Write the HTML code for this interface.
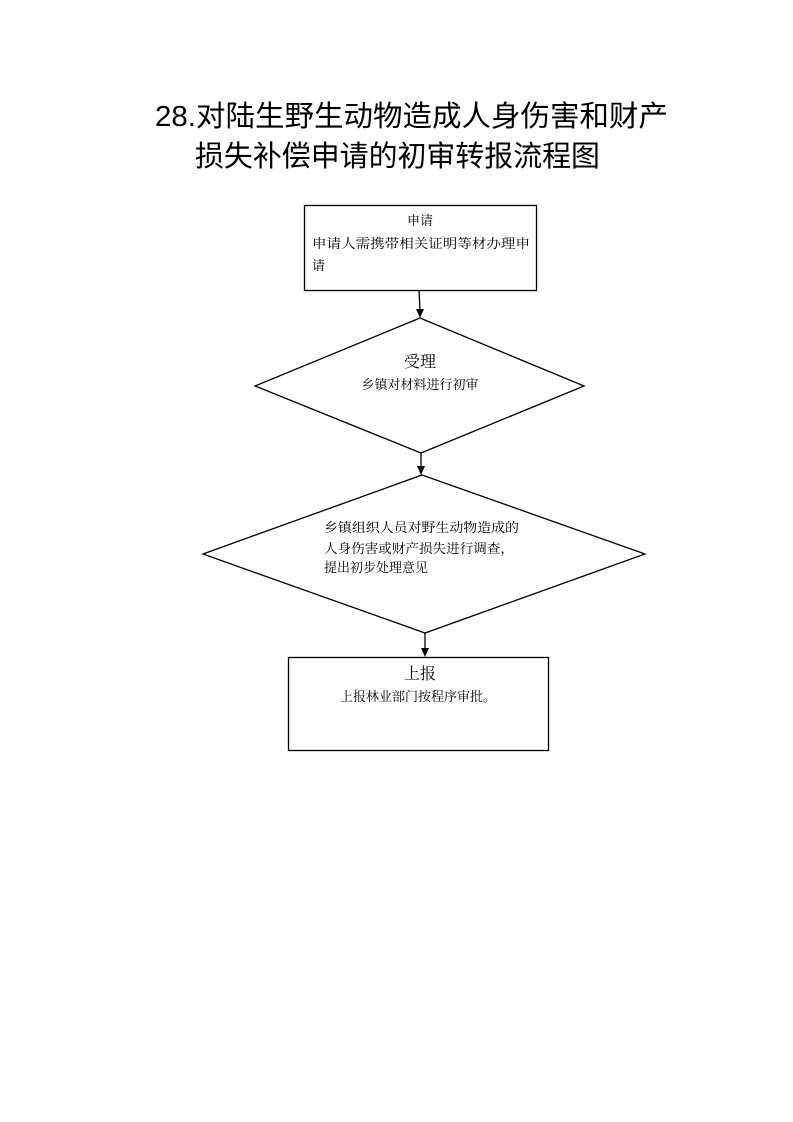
<!DOCTYPE html>
<html><head><meta charset="utf-8"><style>
html,body{margin:0;padding:0;background:#fff;}
svg{display:block;}
.t{font-family:"Liberation Sans","Noto Sans CJK SC",sans-serif;font-size:29px;fill:#000;}
.s{font-family:"Liberation Serif","Noto Serif CJK SC",serif;font-size:13px;fill:#000;}
.m{font-family:"Liberation Serif","Noto Serif CJK SC",serif;font-size:16px;fill:#000;}
</style></head><body>
<svg width="793" height="1122" viewBox="0 0 793 1122" xmlns="http://www.w3.org/2000/svg">
<defs><marker id="a" markerWidth="8" markerHeight="10" refX="4" refY="10" orient="auto" markerUnits="userSpaceOnUse"><path d="M0,0 L8,0 L4,10 Z" transform="rotate(-90 4 5) translate(0,0)" fill="#000"/></marker></defs>
<text class="t" x="155" y="126" textLength="513" lengthAdjust="spacingAndGlyphs">28.对陆生野生动物造成人身伤害和财产</text>
<text class="t" x="195" y="166" textLength="405" lengthAdjust="spacingAndGlyphs">损失补偿申请的初审转报流程图</text>
<g fill="none" stroke="#000" stroke-width="1.3">
<rect x="304.5" y="205.5" width="232" height="85"/>
<polygon points="420,318 584,386 421,453 255,386"/>
<polygon points="422,475 645,554 425,633 203,554"/>
<rect x="288.5" y="657.5" width="260" height="93"/>
<line x1="419" y1="290" x2="420" y2="310"/>
<line x1="421" y1="453" x2="421" y2="467"/>
<line x1="425" y1="633" x2="425" y2="649"/>
</g>
<g fill="#000">
<polygon points="416,309 424,309 420,318"/>
<polygon points="417,466 425,466 421,475"/>
<polygon points="421,648 429,648 425,657"/>
</g>
<text class="s" x="420" y="225" text-anchor="middle">申请</text>
<text class="s" x="312" y="248" textLength="218" lengthAdjust="spacingAndGlyphs">申请人需携带相关证明等材办理申</text>
<text class="s" x="312" y="270">请</text>
<text class="m" x="420" y="367" text-anchor="middle">受理</text>
<text class="s" x="420" y="389" text-anchor="middle">乡镇对材料进行初审</text>
<text class="s" x="324" y="532" textLength="195" lengthAdjust="spacingAndGlyphs">乡镇组织人员对野生动物造成的</text>
<text class="s" x="324" y="553" textLength="190" lengthAdjust="spacingAndGlyphs">人身伤害或财产损失进行调查，</text>
<text class="s" x="324" y="572">提出初步处理意见</text>
<text class="m" x="420" y="679" text-anchor="middle">上报</text>
<text class="s" x="418" y="701" text-anchor="middle">上报林业部门按程序审批。</text>
</svg>
</body></html>
